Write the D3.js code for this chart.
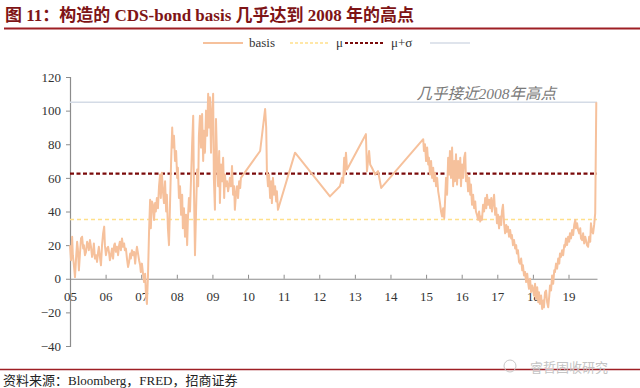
<!DOCTYPE html>
<html><head><meta charset="utf-8">
<script src="https://cdn.jsdelivr.net/npm/d3@7"></script>
<style>body{margin:0;background:#fff}</style>
</head><body><svg id="c" width="640" height="388"></svg>
<script>
const titleText = "图 11：构造的 CDS-bond basis 几乎达到 2008 年的高点";
const sourceText = "资料来源：Bloomberg，FRED，招商证券";
const annotationText = "几乎接近2008年高点";
const watermarkText = "睿哲固收研究";
const yTicks = [-40, -20, 0, 20, 40, 60, 80, 100, 120];
const xTickYears = [2005,2006,2007,2008,2009,2010,2011,2012,2013,2014,2015,2016,2017,2018,2019];
const xTickLabels = ["05","06","07","08","09","10","11","12","13","14","15","16","17","18","19"];
const seriesNames = ["basis", "μ", "μ+σ", ""];
const refValues = [35.3, 62.5, 105];   // μ, μ+σ, 2008 high
const basis = [
[2005.00,20],[2005.03,11],[2005.06,25],[2005.08,14],[2005.11,8],[2005.14,1],[2005.17,12],[2005.20,22],[2005.22,18],[2005.25,5],[2005.28,15],[2005.31,24],[2005.34,25],[2005.37,18],[2005.39,20],[2005.42,14],[2005.45,16],[2005.48,22],[2005.51,20],[2005.53,17],[2005.56,23],[2005.59,19],[2005.62,13],[2005.65,16],[2005.67,21],[2005.70,12],[2005.73,14],[2005.76,10],[2005.79,16],[2005.81,19],[2005.84,13],[2005.87,8],[2005.90,20],[2005.93,27],[2005.96,31],[2005.98,20],
[2006.01,14],[2006.04,18],[2006.07,19],[2006.10,15],[2006.12,11],[2006.15,14],[2006.18,18],[2006.21,12],[2006.24,20],[2006.26,21],[2006.29,16],[2006.32,19],[2006.35,14],[2006.38,20],[2006.40,22],[2006.43,17],[2006.46,24],[2006.49,19],[2006.52,21],[2006.54,17],[2006.57,18],[2006.60,12],[2006.63,7],[2006.66,10],[2006.69,15],[2006.71,12],[2006.74,17],[2006.77,14],[2006.80,16],[2006.83,9],[2006.85,14],[2006.88,19],[2006.91,15],[2006.94,11],[2006.97,8],[2006.99,4],
[2007.02,9],[2007.05,3],[2007.08,-2],[2007.11,3],[2007.13,-8],[2007.16,-15],[2007.19,2],[2007.22,28],[2007.25,47],[2007.27,30],[2007.30,46],[2007.33,44],[2007.36,35],[2007.39,45],[2007.41,40],[2007.44,48],[2007.47,42],[2007.50,55],[2007.53,62],[2007.55,48],[2007.58,63],[2007.61,52],[2007.64,45],[2007.67,58],[2007.70,40],[2007.72,50],[2007.75,30],[2007.78,20],[2007.81,45],[2007.84,70],[2007.87,90],[2007.89,78],[2007.92,85],[2007.95,70],[2007.98,76],
[2008.01,60],[2008.03,66],[2008.06,48],[2008.09,55],[2008.12,38],[2008.15,50],[2008.17,30],[2008.20,42],[2008.23,25],[2008.26,38],[2008.29,20],[2008.31,35],[2008.34,48],[2008.37,40],[2008.40,60],[2008.43,80],[2008.46,97],[2008.48,55],[2008.51,14],[2008.54,40],[2008.57,65],[2008.60,55],[2008.62,85],[2008.65,97],[2008.68,78],[2008.71,98],[2008.74,70],[2008.76,88],[2008.79,75],[2008.82,100],[2008.85,85],[2008.88,110],[2008.90,90],[2008.93,108],[2008.96,75],[2008.99,100],
[2009.02,110],[2009.04,60],[2009.07,41],[2009.10,95],[2009.13,70],[2009.16,55],[2009.19,76],[2009.21,45],[2009.24,68],[2009.27,58],[2009.30,72],[2009.33,48],[2009.35,62],[2009.38,55],[2009.41,58],[2009.44,52],[2009.47,56],[2009.49,60],[2009.52,55],[2009.55,67],[2009.58,50],[2009.61,55],[2009.63,41],[2009.66,50],[2009.69,55],[2009.72,48],[2009.75,58],[2009.78,54],[2009.80,60],
[2010.34,76],[2010.48,101],[2010.51,90],[2010.53,64],[2010.56,55],[2010.59,62],[2010.62,48],[2010.65,58],[2010.67,45],[2010.70,60],[2010.73,50],[2010.76,55],[2010.79,46],[2010.81,52],[2010.84,41],
[2011.32,75],[2012.30,49],[2012.58,55],[2012.64,60],[2012.67,57],[2012.70,72],[2012.72,62],[2012.75,75],[2012.78,65],[2013.31,86],[2013.34,64],[2013.37,70],[2013.40,76],[2013.43,68],[2013.48,66],[2013.57,62],[2013.65,64],[2013.74,54],
[2014.92,83],[2014.94,76],[2014.97,80],[2015.00,70],[2015.03,78],[2015.06,68],[2015.08,72],[2015.11,62],[2015.14,70],[2015.17,60],[2015.20,66],[2015.22,58],[2015.25,63],[2015.28,55],[2015.31,60],[2015.34,52],[2015.37,48],[2015.39,45],[2015.42,40],[2015.45,37],[2015.48,42],[2015.51,36],[2015.53,45],[2015.56,60],[2015.59,50],[2015.62,72],[2015.65,62],[2015.67,76],[2015.70,60],[2015.73,78],[2015.76,55],[2015.79,70],[2015.81,58],[2015.84,74],[2015.87,56],[2015.90,70],[2015.93,60],[2015.96,72],[2015.98,55],
[2016.01,68],[2016.04,60],[2016.07,72],[2016.10,75],[2016.12,58],[2016.15,62],[2016.18,52],[2016.21,60],[2016.24,50],[2016.26,56],[2016.29,44],[2016.32,50],[2016.35,42],[2016.38,46],[2016.40,40],[2016.43,38],[2016.46,35],[2016.49,40],[2016.52,34],[2016.54,37],[2016.57,35],[2016.60,44],[2016.63,40],[2016.66,48],[2016.69,42],[2016.71,50],[2016.74,44],[2016.77,47],[2016.80,42],[2016.83,48],[2016.85,40],[2016.88,45],[2016.91,50],[2016.94,38],[2016.97,42],[2016.99,33],
[2017.02,38],[2017.05,30],[2017.08,37],[2017.11,32],[2017.13,40],[2017.16,44],[2017.19,33],[2017.22,27],[2017.25,32],[2017.27,28],[2017.30,31],[2017.33,25],[2017.36,29],[2017.39,24],[2017.41,26],[2017.44,20],[2017.47,23],[2017.50,18],[2017.53,20],[2017.55,15],[2017.58,17],[2017.61,10],[2017.64,9],[2017.67,12],[2017.70,5],[2017.72,8],[2017.75,2],[2017.78,4],[2017.81,-2],[2017.84,3],[2017.87,-3],[2017.89,-6],[2017.92,0],[2017.95,-8],[2017.98,-4],
[2018.01,-7],[2018.03,-10],[2018.06,-3],[2018.09,-12],[2018.12,-5],[2018.15,-14],[2018.17,-8],[2018.20,-15],[2018.23,-10],[2018.26,-18],[2018.29,-13],[2018.31,-17],[2018.34,-8],[2018.37,-7],[2018.40,-14],[2018.43,-17],[2018.46,-10],[2018.48,-4],[2018.51,-7],[2018.54,2],[2018.57,-3],[2018.60,5],[2018.62,4],[2018.65,9],[2018.68,6],[2018.71,12],[2018.74,9],[2018.76,15],[2018.79,13],[2018.82,17],[2018.85,14],[2018.88,20],[2018.90,19],[2018.93,24],[2018.96,20],[2018.99,25],
[2019.02,22],[2019.04,27],[2019.07,24],[2019.10,29],[2019.13,26],[2019.16,32],[2019.19,35],[2019.21,30],[2019.24,33],[2019.27,29],[2019.30,27],[2019.33,30],[2019.35,24],[2019.38,23],[2019.41,27],[2019.44,21],[2019.47,25],[2019.49,23],[2019.52,20],[2019.55,19],[2019.58,25],[2019.61,22],[2019.63,33],[2019.66,28],[2019.69,27],[2019.72,32],[2019.75,39],[2019.78,105]
];

const serif = "'Times New Roman','Liberation Serif','DejaVu Serif','Noto Sans CJK SC',serif";
const colors = {basis:"#F6C19C", mu:"#FFE08A", sig:"#7A0A0A", high:"#D4DBE6", axis:"#8C8C8C", title:"#7E1416", rule:"#9E1F24"};

const svg = d3.select("#c");
const x = d3.scaleLinear().domain([2005, 2019.8]).range([70, 597]);
const y = d3.scaleLinear().domain([-40, 120]).range([346, 77]);

// title
svg.append("text").attr("x", 5).attr("y", 21).attr("font-family", serif)
  .attr("font-size", 17).attr("font-weight", "bold").attr("fill", colors.title).text(titleText);
svg.append("line").attr("x1", 4).attr("x2", 640).attr("y1", 28.5).attr("y2", 28.5)
  .attr("stroke", colors.rule).attr("stroke-width", 2);

// legend
const legendItems = [
  {name: seriesNames[0], x: 203, stroke: colors.basis, w: 2, dash: null},
  {name: seriesNames[1], x: 290, stroke: colors.mu, w: 1.5, dash: "3,2"},
  {name: seriesNames[2], x: 345, stroke: colors.sig, w: 2, dash: "3,2"},
  {name: seriesNames[3], x: 430, stroke: colors.high, w: 1.5, dash: null}
];
const lg = svg.append("g");
legendItems.forEach(d => {
  lg.append("line").attr("x1", d.x).attr("x2", d.x + 40).attr("y1", 43).attr("y2", 43)
    .attr("stroke", d.stroke).attr("stroke-width", d.w).attr("stroke-dasharray", d.dash);
  if (d.name) lg.append("text").attr("x", d.x + 46).attr("y", 47).attr("font-family", serif)
    .attr("font-size", 13).attr("fill", "#333").text(d.name);
});

// axes
const yAxis = d3.axisLeft(y).tickValues(yTicks).tickSize(4).tickPadding(5);
const gy = svg.append("g").attr("transform", "translate(70,0)").call(yAxis);
gy.select(".domain").attr("stroke", colors.axis).attr("stroke-width", 1.2);
gy.selectAll(".tick line").attr("stroke", colors.axis);
gy.selectAll(".tick text").attr("font-family", serif).attr("font-size", 13).attr("fill", "#333");

const xAxis = d3.axisBottom(x).tickValues(xTickYears).tickSize(-4).tickPadding(13)
  .tickFormat((d, i) => xTickLabels[i]).tickSizeOuter(0);
const gx = svg.append("g").attr("transform", `translate(0,${y(0)})`).call(xAxis);
gx.select(".domain").attr("stroke", colors.axis).attr("stroke-width", 1.2);
gx.selectAll(".tick line").attr("stroke", colors.axis);
gx.selectAll(".tick text").attr("font-family", serif).attr("font-size", 13).attr("fill", "#333");

// reference lines
const refStyles = [
  {stroke: colors.mu, w: 1.5, dash: "4,3"},
  {stroke: colors.sig, w: 2.2, dash: "4,2.5"},
  {stroke: colors.high, w: 1.5, dash: null}
];
refValues.forEach((v, i) => {
  svg.append("line").attr("x1", x(2005)).attr("x2", x(2019.8)).attr("y1", y(v)).attr("y2", y(v))
    .attr("stroke", refStyles[i].stroke).attr("stroke-width", refStyles[i].w)
    .attr("stroke-dasharray", refStyles[i].dash);
});

// basis line
const line = d3.line().x(d => x(d[0])).y(d => y(d[1]));
svg.append("path").datum(basis).attr("d", line).attr("fill", "none")
  .attr("stroke", colors.basis).attr("stroke-width", 2).attr("stroke-linejoin", "round");

// annotation
svg.append("text").attr("x", 556).attr("y", 99).attr("text-anchor", "end")
  .attr("font-family", serif).attr("font-style", "italic").attr("font-size", 15.5)
  .attr("fill", "#7a7a7a").text(annotationText);

// footer
svg.append("line").attr("x1", 0).attr("x2", 640).attr("y1", 369.5).attr("y2", 369.5)
  .attr("stroke", colors.rule).attr("stroke-width", 1.5);
svg.append("text").attr("x", 530).attr("y", 372).attr("font-family", "'Noto Sans CJK SC',sans-serif")
  .attr("font-size", 13).attr("fill", "#c4c4c4").text(watermarkText);
svg.append("circle").attr("cx", 510).attr("cy", 366).attr("r", 6).attr("fill", "none").attr("stroke", "#c8c8c8");
svg.append("text").attr("x", 3).attr("y", 385).attr("font-family", serif)
  .attr("font-size", 13).attr("fill", "#222").text(sourceText);
</script></body></html>
